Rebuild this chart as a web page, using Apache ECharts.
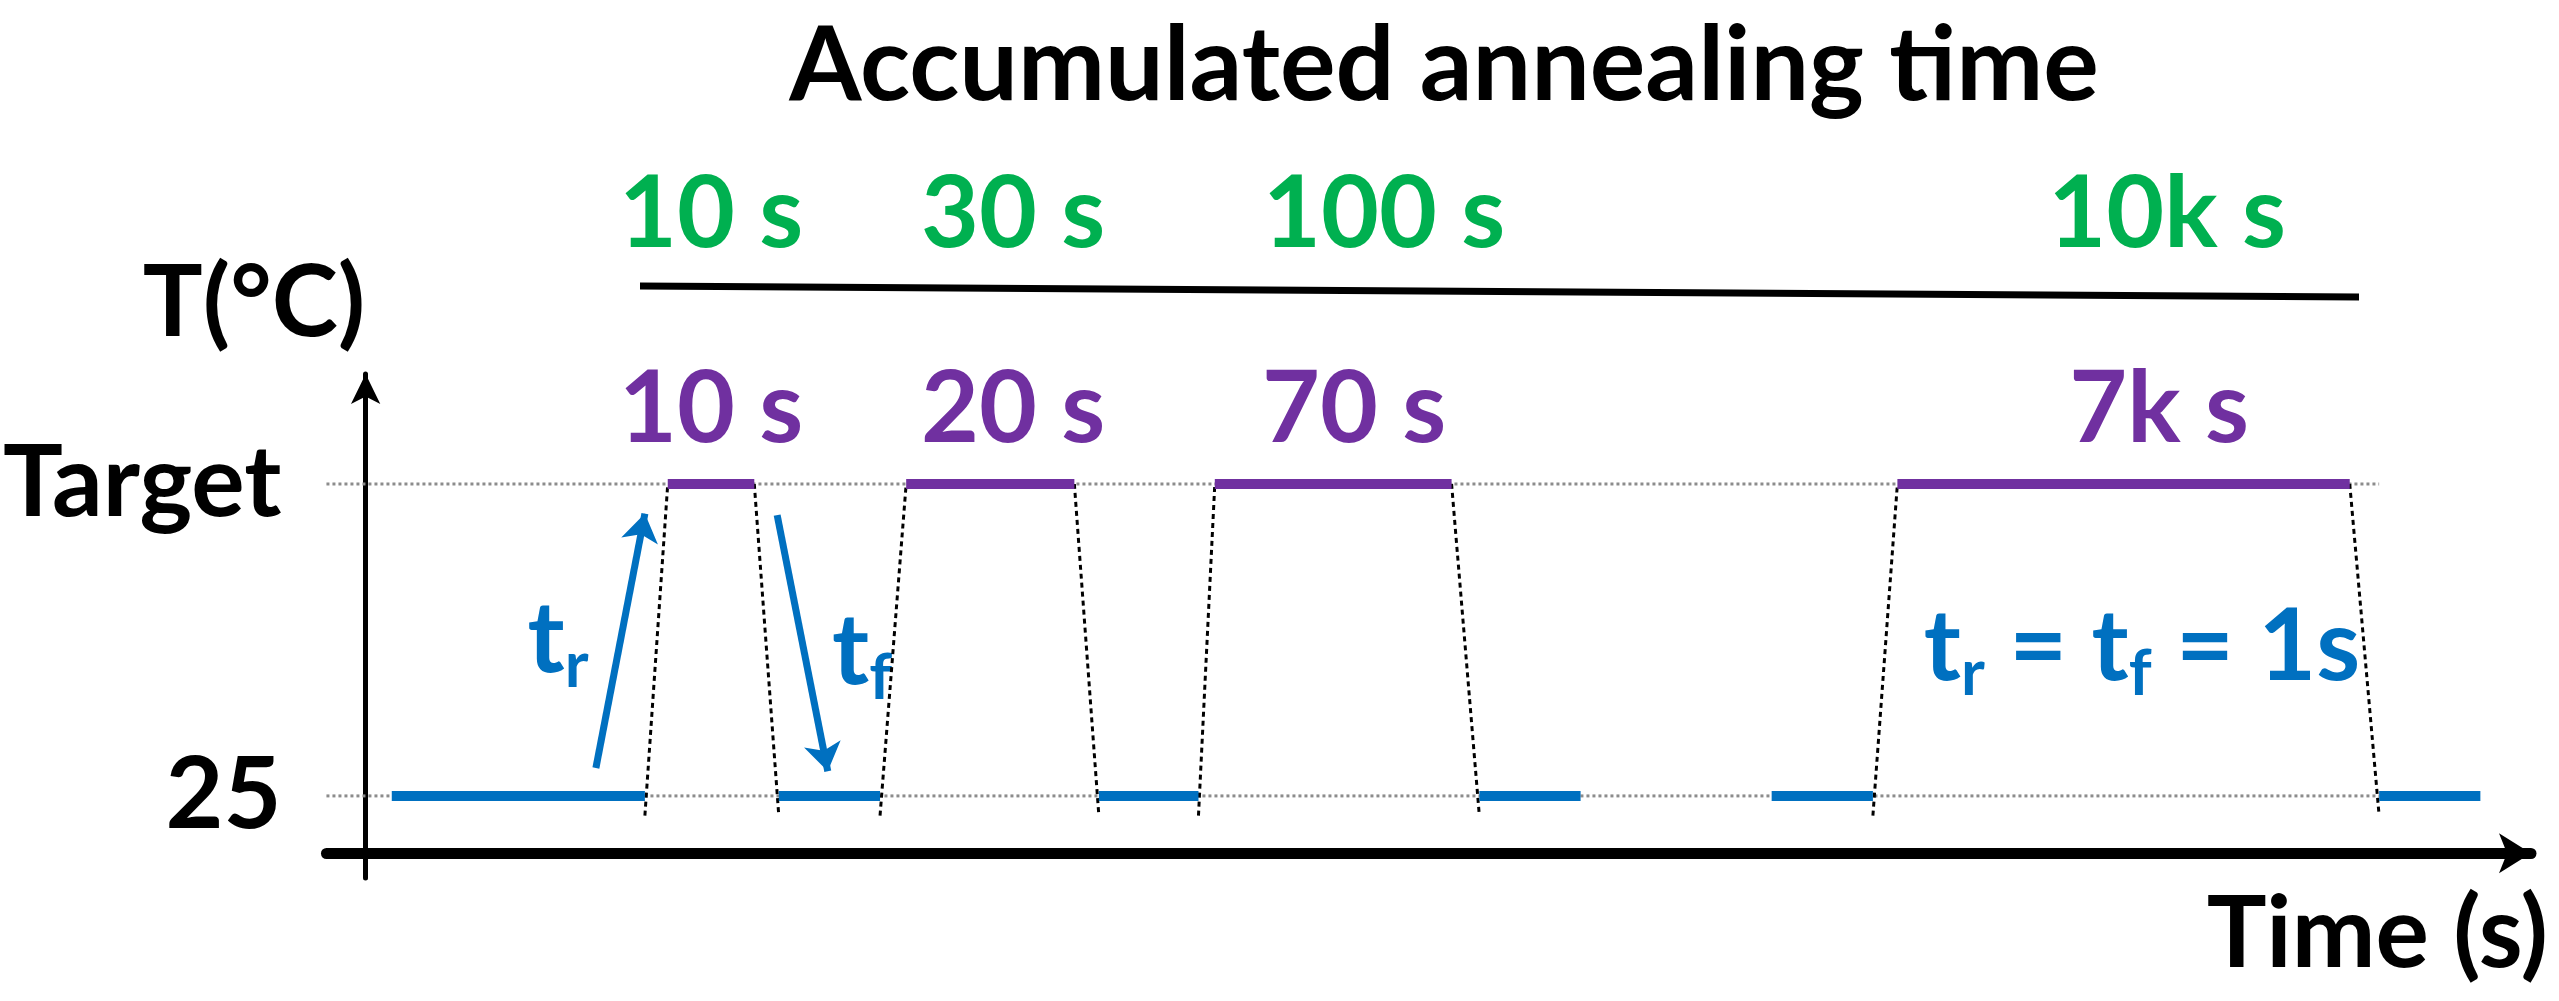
<!DOCTYPE html>
<html><head><meta charset="utf-8">
<script src="https://cdn.jsdelivr.net/npm/echarts@6/dist/echarts.min.js"></script>
<style>html,body{margin:0;padding:0;background:#fff}#c{width:2559px;height:1001px}</style>
</head><body><div id="c"></div>
<script>
// schematic units: x = time (arbitrary), y = temperature level (arbitrary)
const LOW = 35, HIGH = 225;
const lowSegments = [[16,171],[253,315],[449,510],[682,744],[861,923],[1233,1295]];
const highSegments = [[185,238],[331,434],[520,665],[938,1215]];
const ramps = [[171,185,'up'],[238,253,'down'],[315,331,'up'],[434,449,'down'],[510,520,'up'],[665,682,'down'],[923,938,'up'],[1215,1233,'down']];
const accumulatedLabels = ['10 s','30 s','100 s','10k s'];
const durationLabels = ['10 s','20 s','70 s','7k s'];
const yTickValues = [LOW, HIGH];
const yTickLabels = {35:'25', 225:'Target'};
const guideRange = [-24, 1233];
const arrowTr = [[141,52],[171,207]];
const arrowTf = [[252,206],[283,50]];

const FONT = 'Lato';
const BLUE = '#0070C0', PURPLE = '#7030A0', GREEN = '#00B050';
const series = [];
yTickValues.forEach(v => series.push({type:'line', data:[[guideRange[0],v],[guideRange[1],v]], showSymbol:false, silent:true,
  lineStyle:{color:'#8c8c8c', width:3, type:'dotted'}, z:1}));
lowSegments.forEach(s => series.push({type:'line', data:[[s[0],LOW],[s[1],LOW]], showSymbol:false, lineStyle:{color:BLUE, width:10}, z:3}));
highSegments.forEach(s => series.push({type:'line', data:[[s[0],HIGH],[s[1],HIGH]], showSymbol:false, lineStyle:{color:PURPLE, width:10}, z:3}));
ramps.forEach(r => {
  const d = r[2]==='up' ? [[r[0],LOW-12],[r[1],HIGH]] : [[r[0],HIGH],[r[1],LOW-12]];
  series.push({type:'line', data:d, showSymbol:false, lineStyle:{color:'#000', width:3, type:[5,4]}, z:2});
});
series.push({type:'lines', coordinateSystem:'cartesian2d', symbol:['none','arrow'], symbolSize:28,
  lineStyle:{color:BLUE, width:7, opacity:1}, data:[{coords:arrowTr},{coords:arrowTf}], z:4});

const accX = [711,1013,1384,2167], durX = [711,1013,1354,2159];
const rich = {m:{font:'bold 100px '+FONT, fill:BLUE}, s:{font:'bold 64px '+FONT, fill:BLUE, padding:[52,0,0,0]}};
const graphic = [
  {type:'text', x:1444, y:66, style:{text:'Accumulated annealing time', font:'bold 104px '+FONT, fill:'#000', textAlign:'center', textVerticalAlign:'middle'}},
  {type:'line', shape:{x1:640,y1:286,x2:2359,y2:297}, style:{stroke:'#000', lineWidth:7}},
  {type:'text', x:254, y:304, style:{text:'T(°C)', font:'bold 100px '+FONT, fill:'#000', textAlign:'center', textVerticalAlign:'middle'}},
  {type:'text', x:2548, y:935, style:{text:'Time (s)', font:'bold 100px '+FONT, fill:'#000', textAlign:'right', textVerticalAlign:'middle'}},
  {type:'text', x:2142, y:648, style:{rich:rich, text:'{m|t}{s|r}{m| = t}{s|f}{m| = 1s}', textAlign:'center', textVerticalAlign:'middle'}},
  {type:'text', x:558, y:640, style:{rich:rich, text:'{m|t}{s|r}', textAlign:'center', textVerticalAlign:'middle'}},
  {type:'text', x:862, y:652, style:{rich:rich, text:'{m|t}{s|f}', textAlign:'center', textVerticalAlign:'middle'}}
];
accumulatedLabels.forEach((t,i)=>graphic.push({type:'text', x:accX[i], y:215, style:{text:t, font:'bold 100px '+FONT, fill:GREEN, textAlign:'center', textVerticalAlign:'middle'}}));
durationLabels.forEach((t,i)=>graphic.push({type:'text', x:durX[i], y:410, style:{text:t, font:'bold 100px '+FONT, fill:PURPLE, textAlign:'center', textVerticalAlign:'middle'}}));

const chart = echarts.init(document.getElementById('c'));
chart.setOption({
  animation:false,
  grid:{left:315, right:28, top:374, bottom:123},
  xAxis:{type:'value', min:-24, max:1326, splitLine:{show:false}, axisTick:{show:false}, axisLabel:{show:false},
    axisLine:{onZero:true, lineStyle:{color:'#000', width:11}, symbol:['none','arrow'], symbolSize:[30,32]}},
  yAxis:{type:'value', min:-15, max:292, splitLine:{show:false}, axisTick:{show:false},
    axisLine:{onZero:true, lineStyle:{color:'#000', width:5}, symbol:['none','arrow'], symbolSize:[22,30]},
    axisLabel:{customValues:yTickValues, formatter:v=>yTickLabels[v]||'', margin:45, fontFamily:FONT, fontWeight:'bold', fontSize:100, color:'#000'}},
  series:series,
  graphic:graphic
});
</script></body></html>
